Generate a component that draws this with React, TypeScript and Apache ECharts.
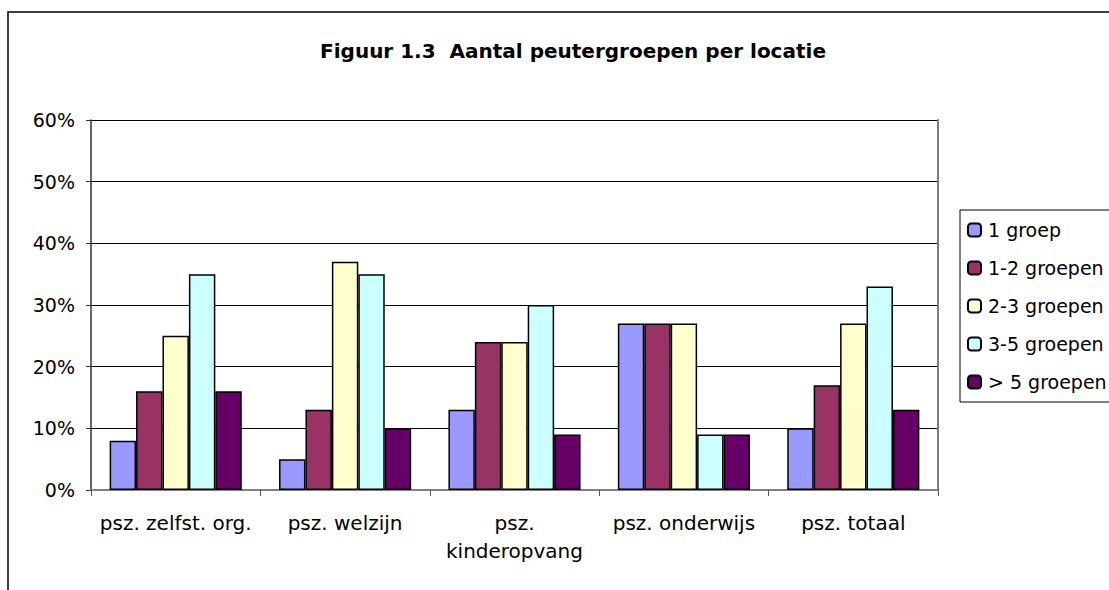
import React, { useEffect, useRef } from "react";
import * as echarts from "echarts";

const categories = ["psz. zelfst. org.", "psz. welzijn", "psz.\nkinderopvang", "psz. onderwijs", "psz. totaal"];
const seriesNames = ["1 groep", "1-2 groepen", "2-3 groepen", "3-5 groepen", "> 5 groepen"];
const groep1 = [8, 5, 13, 27, 10];
const groep1tot2 = [16, 13, 24, 27, 17];
const groep2tot3 = [25, 37, 24, 27, 27];
const groep3tot5 = [35, 35, 30, 9, 33];
const groepMeerDan5 = [16, 10, 9, 9, 13];
const seriesValues = [groep1, groep1tot2, groep2tot3, groep3tot5, groepMeerDan5];
const colors = ["#9999FF", "#993366", "#FFFFCC", "#CCFFFF", "#660066"];
const titleText = "Figuur 1.3  Aantal peutergroepen per locatie";

const FONT = "DejaVu Sans";

export default function App() {
  const ref = useRef<HTMLDivElement>(null);
  useEffect(() => {
    document.body.style.margin = "0";
    if (!ref.current) return;
    const chart = echarts.init(ref.current, null, { renderer: "svg" });
    chart.setOption({
      animation: false,
      backgroundColor: "#fff",
      title: {
        text: titleText,
        left: 568,
        top: 36,
        textAlign: "center",
        textStyle: { fontFamily: FONT, fontWeight: "bold", fontSize: 20, color: "#000" },
      },
      graphic: [
        {
          type: "rect",
          shape: { x: 8, y: 12, width: 1300, height: 800 },
          style: { fill: "none", stroke: "#000", lineWidth: 1.5 },
          silent: true,
          z: 100,
        },
      ],
      legend: {
        orient: "vertical",
        left: 960,
        top: 210,
        padding: [10, 30, 10, 7],
        borderColor: "#000",
        borderWidth: 1,
        itemWidth: 13,
        itemHeight: 13,
        itemGap: 18,
        textStyle: { fontFamily: FONT, fontSize: 19, color: "#000", lineHeight: 20, padding: [0, 0, 0, 2] },
        data: seriesNames,
      },
      grid: { left: 91, top: 120, right: 171, bottom: 100, containLabel: false },
      xAxis: [
        {
          type: "category",
          data: categories,
          axisLine: { show: true, lineStyle: { color: "#333", width: 1.5 } },
          axisTick: { show: true, length: 6, lineStyle: { color: "#555" } },
          axisLabel: { fontFamily: FONT, fontSize: 20, color: "#000", margin: 19, lineHeight: 28, interval: 0 },
          splitLine: { show: false },
        },
        {
          type: "category",
          position: "top",
          data: categories,
          axisLine: { show: true, lineStyle: { color: "#808080", width: 2 } },
          axisTick: { show: false },
          axisLabel: { show: false },
        },
      ],
      yAxis: [
        {
          type: "value",
          min: 0,
          max: 60,
          interval: 10,
          axisLine: { show: true, lineStyle: { color: "#333", width: 1.5 } },
          axisTick: { show: true, length: 5, lineStyle: { color: "#333" } },
          axisLabel: { fontFamily: FONT, fontSize: 19, color: "#000", margin: 16, formatter: "{value}%" },
          splitLine: { show: true, lineStyle: { color: "#000", width: 1 } },
        },
        {
          type: "value",
          position: "right",
          min: 0,
          max: 60,
          interval: 10,
          axisLine: { show: true, lineStyle: { color: "#808080", width: 2 } },
          axisTick: { show: false },
          axisLabel: { show: false },
          splitLine: { show: false },
        },
      ],
      series: seriesNames.map((name, i) => ({
        name,
        type: "bar",
        data: seriesValues[i],
        barGap: "0%",
        barCategoryGap: "22%",
        itemStyle: { color: colors[i], borderColor: "#000", borderWidth: 1.5 },
      })),
    });
    return () => chart.dispose();
  }, []);
  return <div ref={ref} style={{ width: 1109, height: 590 }} />;
}
